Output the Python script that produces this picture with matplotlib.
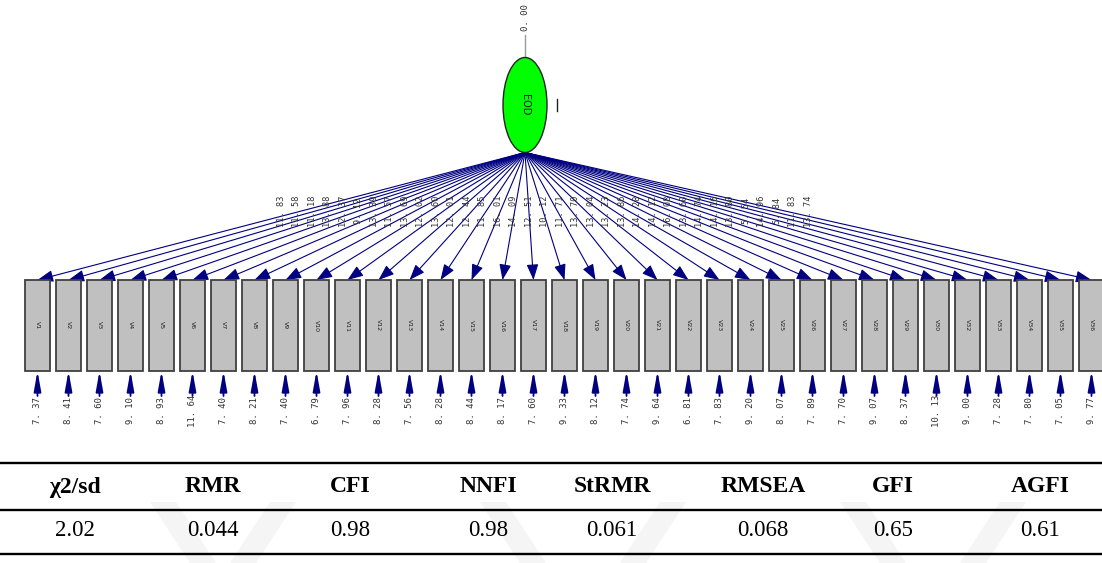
"""
Path diagram of the one-factor EOD measurement model with its fit indices table.
"""

import matplotlib.pyplot as plt
from matplotlib.patches import Ellipse, Rectangle, Polygon

# ------------------------------------------------------------------
# Model values
# ------------------------------------------------------------------
indicators = [f"V{i}" for i in range(1, 31)] + [f"V{i}" for i in range(32, 37)]

loadings = [
    11.83, 11.58, 11.18, 13.88, 12.37, 9.12, 13.39, 11.57, 13.69, 12.02,
    13.60, 12.01, 12.44, 11.85, 16.01, 14.09, 12.51, 10.12, 11.71, 13.70,
    13.04, 13.23, 13.86, 14.28, 14.12, 16.08, 13.60, 14.74, 14.16, 13.80,
    5.54, 14.96, 5.84, 11.83, 13.74,
]

error_vars = [
    7.37, 8.41, 7.60, 9.10, 8.93, 11.64, 7.40, 8.21, 7.40, 6.79,
    7.96, 8.28, 7.56, 8.28, 8.44, 8.17, 7.60, 9.33, 8.12, 7.74,
    9.64, 6.81, 7.83, 9.20, 8.07, 7.89, 7.70, 9.07, 8.37, 10.13,
    9.00, 7.28, 7.80, 7.05, 9.77,
]

factor_name = "EOD"
factor_var = 0.00

fit_names = ["χ2/sd", "RMR", "CFI", "NNFI", "StRMR", "RMSEA", "GFI", "AGFI"]
fit_values = ["2.02", "0.044", "0.98", "0.98", "0.061", "0.068", "0.65", "0.61"]

# ------------------------------------------------------------------
# Layout (pixel space, y grows downward)
# ------------------------------------------------------------------
W, H = 1102, 563
NAVY = "#000080"
MONO = "DejaVu Sans Mono"

fac_x, fac_y = 525, 105
fac_w, fac_h = 44, 95
box_x0, box_dx = 37.5, 31.0
box_w, box_top, box_bot = 25, 280, 371
err_y = 396

fit_x = [75, 213, 350, 488, 612, 763, 893, 1040]


def spaced(v):
    """LISREL-style number with a gap after the decimal point."""
    return f"{v:.2f}".replace(".", ". ")


fig = plt.figure(figsize=(W / 100, H / 100), dpi=100)
ax = fig.add_axes([0, 0, 1, 1])
ax.set_xlim(0, W)
ax.set_ylim(H, 0)
ax.axis("off")

# faint watermark chevrons behind the table
for x0, lean in [(150, 1), (270, -1), (480, 1), (660, -1), (840, 1), (1000, -1)]:
    pts = [(x0, 502), (x0 + 26, 502), (x0 + 26 + lean * 40, 563), (x0 + lean * 40, 563)]
    ax.add_patch(Polygon(pts, closed=True, facecolor="#f5f5f5", edgecolor="none", zorder=0))

# ------------------------------------------------------------------
# Latent factor
# ------------------------------------------------------------------
ax.plot([fac_x, fac_x], [fac_y - fac_h / 2, 35], color="#999999", lw=1.0, zorder=2)
ax.text(fac_x, 18, spaced(factor_var), rotation=90, ha="center", va="center",
        fontsize=6.5, color="#333333", family=MONO)
ax.add_patch(Ellipse((fac_x, fac_y), fac_w, fac_h, facecolor="#00ff00",
                     edgecolor="#222222", lw=1.0, zorder=4))
ax.text(fac_x, fac_y, factor_name, rotation=270, ha="center", va="center",
        fontsize=7, color="#111111", zorder=5)
ax.plot([557, 557], [99, 111], color="#222222", lw=1.0, zorder=4)

# ------------------------------------------------------------------
# Indicators, loadings and error variances
# ------------------------------------------------------------------
src = (fac_x, fac_y + fac_h / 2)
for i, (name, lam, ev) in enumerate(zip(indicators, loadings, error_vars)):
    xc = box_x0 + box_dx * i

    ax.annotate("", xy=(xc, box_top), xytext=src,
                arrowprops=dict(arrowstyle="-|>,head_length=0.8,head_width=0.3",
                                color=NAVY, lw=0.8, mutation_scale=12,
                                shrinkA=0, shrinkB=0), zorder=3)

    lx = src[0] + 0.5 * (xc - src[0])
    ly = src[1] + 0.5 * (box_top - src[1]) - 5
    ax.text(lx, ly, spaced(lam), rotation=90, ha="center", va="center",
            fontsize=6.2, color="#333333", family=MONO, zorder=4)

    ax.add_patch(Rectangle((xc - box_w / 2, box_top), box_w, box_bot - box_top,
                           facecolor="#c0c0c0", edgecolor="#404040", lw=1.3, zorder=4))
    ax.text(xc, (box_top + box_bot) / 2, name, rotation=270, ha="center",
            va="center", fontsize=4.5, color="#222222", zorder=5)

    ax.annotate("", xy=(xc, box_bot), xytext=(xc, err_y),
                arrowprops=dict(arrowstyle="-|>,head_length=1.0,head_width=0.18",
                                color=NAVY, lw=1.3, mutation_scale=12,
                                shrinkA=0, shrinkB=0), zorder=3)
    ax.text(xc, 411, spaced(ev), rotation=90, ha="center",
            va="center", fontsize=6.5, color="#333333", family=MONO)

# ------------------------------------------------------------------
# Fit indices table
# ------------------------------------------------------------------
for y in (463, 510, 554):
    ax.plot([0, W], [y, y], color="black", lw=1.7, solid_capstyle="butt", zorder=2)

for x, name, val in zip(fit_x, fit_names, fit_values):
    ax.text(x, 487, name, ha="center", va="center", fontsize=17,
            fontweight="bold", family="Liberation Serif")
    ax.text(x, 531, val, ha="center", va="center", fontsize=16.5,
            family="Liberation Serif")

fig.savefig("out.png", dpi=100)
